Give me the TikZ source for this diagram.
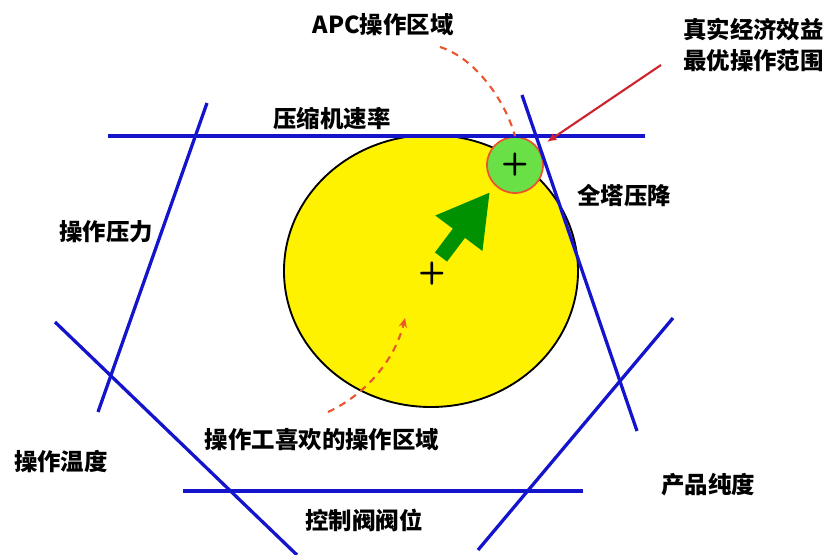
\documentclass[tikz,border=0pt]{standalone}
\usepackage{fontspec}
\newfontfamily\cjk{Noto Sans CJK SC}
\usetikzlibrary{arrows.meta,shapes.geometric}
\definecolor{lineblue}{RGB}{20,20,205}
\definecolor{apcgreen}{RGB}{105,225,70}
\definecolor{arrowgreen}{RGB}{0,145,0}
\definecolor{hintred}{RGB}{235,85,45}
\definecolor{econred}{RGB}{205,35,45}

\begin{document}
\begin{tikzpicture}[x=0.03cm,y=-0.03cm,line join=round,
  bound/.style={lineblue,line width=2.8pt},
  lbl/.style={font={\cjk\bfseries\fontsize{20}{27}\selectfont},inner sep=0pt},
  cross/.style={font={\sffamily\bfseries\fontsize{27}{27}\selectfont},inner sep=0pt},
  hint/.style={hintred,line width=1.8pt,dash pattern=on 6pt off 5pt}]
\useasboundingbox (0,0) rectangle (826,555);
% operator zone and APC zone
\node[ellipse,draw,line width=1.6pt,fill=yellow,minimum width=8.82cm,
  minimum height=8.16cm,inner sep=0pt] (zone) at (431,271) {};
\node[cross] (ctr) at (432,274) {+};
\node[circle,draw=hintred,line width=1.5pt,fill=apcgreen,minimum size=1.68cm,
  inner sep=0pt] (apczone) at (515,165) {};
\node[cross] at (apczone) {+};
% constraint lines
\draw[bound] (108,136) -- (645,136);
\draw[bound] (207,103) -- (98,412);
\draw[bound] (522,95) -- (637,431);
\draw[bound] (55,322) -- (297,555);
\draw[bound] (673,318) -- (478,550);
\draw[bound] (183,491) -- (583,491);
% labels
\node[lbl] (apc) at (383,25) {APC操作区域};
\node[lbl,align=left,anchor=west] (econ) at (683,45) {真实经济效益\\最优操作范围};
\node[lbl] (comp) at (332,119) {压缩机速率};
\node[lbl] (tower) at (624,196) {全塔压降};
\node[lbl] (press) at (106,232) {操作压力};
\node[lbl] (temp) at (61,462) {操作温度};
\node[lbl] (oplbl) at (322,440) {操作工喜欢的操作区域};
\node[lbl] (purity) at (708,485) {产品纯度};
\node[lbl] (valve) at (364,520) {控制阀阀位};
% pointers
\coordinate (apctail) at (440,47);
\coordinate (econtail) at (661,65);
\coordinate (optpt) at (547,142);
\coordinate (optail) at (328,412);
\coordinate (ophead) at (405,318);
\draw[hint] (apctail) .. controls (475,58) and (505,100) .. (apczone.north);
\draw[econred,line width=1.8pt,-{Latex[length=8pt,width=7pt]}] (econtail) -- (optpt);
\draw[hint,-{Stealth[length=8pt,width=7pt]}] (optail) .. controls (365,395) and (395,360) .. (ophead);
% move direction
\draw[arrowgreen,line width=13pt,-{Triangle[length=1.55cm,width=1.65cm]}] (441,257) -- (490,192);
\end{tikzpicture}
\end{document}
